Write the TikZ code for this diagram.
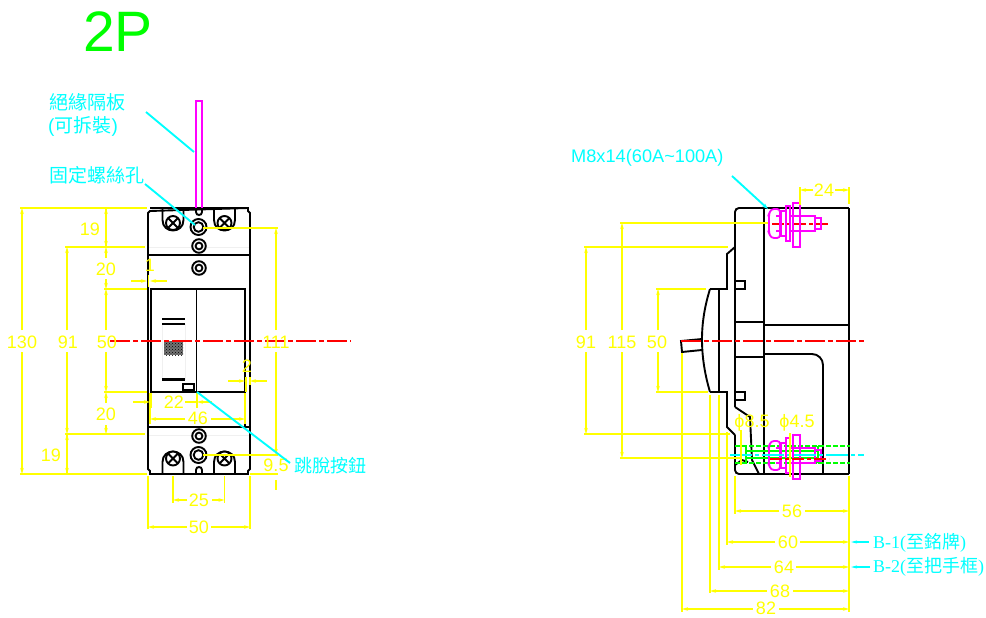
\documentclass[tikz,border=0pt]{standalone}
\usepackage{fontspec}
\setmainfont{Liberation Sans}
\newfontfamily\serifl{Liberation Serif}
\newfontfamily\cjk{Noto Sans CJK TC}
\usetikzlibrary{arrows.meta,patterns}
\definecolor{yel}{RGB}{255,255,0}
\definecolor{cya}{RGB}{0,255,255}
\definecolor{mag}{RGB}{255,0,255}
\definecolor{gre}{RGB}{0,255,0}
\definecolor{re}{RGB}{255,0,0}
\tikzset{
 body/.style={draw=black,line width=1.9pt},
 thin body/.style={draw=black,line width=1.4pt},
 dimline/.style={draw=yel,line width=1.9pt,-{Stealth[length=6pt,width=3.5pt]}},
 ext/.style={draw=yel,line width=1.9pt},
 lbl/.style={text=yel,font=\fontsize{18}{18}\selectfont,inner sep=0pt},
 note/.style={text=cya,font=\fontsize{18.2}{18.2}\selectfont,inner sep=0pt},
 leader/.style={draw=cya,line width=1.9pt},
 center/.style={draw=re,line width=2pt,dash pattern=on 20pt off 3pt on 5pt off 3pt},
 bolt/.style={draw=mag,line width=1.8pt},
 gdash/.style={draw=gre,line width=1.8pt,dash pattern=on 5pt off 2pt},
 gsolid/.style={draw=gre,line width=1.8pt},
}
\newcommand{\boltshape}[1]{%
 \begin{scope}[shift={(0,#1)}]
  \draw[bolt,rounded corners=3pt] (780,209)--(771,209)--(769,214)--(769,233)--(771,238)--(780,238)--cycle;
  \draw[bolt] (781,211) rectangle (786,236);
  \draw[bolt] (786,206) rectangle (790,241);
  \draw[bolt] (793,203) rectangle (800,247);
  \draw[bolt] (790,216)--(815,216)--(815,231)--(790,231);
  \draw[bolt] (815,218)--(821,218)--(821,229)--(815,229);
  \draw[bolt] (776,216)--(780,216) (776,231)--(780,231);
 \end{scope}}
\begin{document}
\begin{tikzpicture}[x=1pt,y=-1pt,line cap=butt]
\useasboundingbox[fill=white] (0,0) rectangle (986,618);

\node[text=gre,font=\fontsize{57}{57}\selectfont,inner sep=0pt,anchor=base west] (title) at (83,52) {2P};

% ---------- front view ----------
\draw[draw=black!6,line width=1pt] (149,247)--(249,247) (149,435)--(249,435);
\draw[draw=black!6,line width=.7pt] (162,324) rectangle (185,379);
\draw[body] (150,208)--(248,208) (248,208)--(248,211)--(250,213)--(250,469)--(248,471)--(248,474)--(150,474)--(150,471)--(148,469)--(148,213)--(150,211)--cycle;
\draw[body] (148,255)--(250,255) (148,427)--(250,427);
\draw[body] (151,289)--(245,289)--(245,392)--(151,392)--cycle;
\draw[body] (196.5,289)--(196.5,392);
\draw[thin body] (245,392)--(245,427);
\draw[thin body] (162,319)--(185,319);
\draw[body] (162,324)--(185,324);
\draw[draw=black,line width=3pt] (162,379)--(185,379);
\fill[black!55] (164,341) rectangle (183,355);
\fill[pattern=crosshatch dots,pattern color=black] (164,341) rectangle (183,355);
\draw[body] (183,384) rectangle (194,390);
% notches
\draw[body] (196,208)--(196,212) .. controls (196,216) and (202,216) .. (202,212)--(202,208);
\draw[body] (196,474)--(196,470) .. controls (196,466) and (202,466) .. (202,470)--(202,474);
% screw housings
\foreach \cx in {173,224.5}{
 \draw[body] (\cx-10.5,208)--(\cx-10.5,220) .. controls (\cx-10.5,234) and (\cx+10.5,234) .. (\cx+10.5,220)--(\cx+10.5,208);
 \draw[body] (\cx-10.5,474)--(\cx-10.5,462) .. controls (\cx-10.5,448) and (\cx+10.5,448) .. (\cx+10.5,462)--(\cx+10.5,474);
 \foreach \cy in {223,458.5}{
  \draw[body,fill=white] (\cx,\cy) circle[radius=7];
  \draw[body] (\cx-4.8,\cy-4.8)--(\cx+4.8,\cy+4.8) (\cx-4.8,\cy+4.8)--(\cx+4.8,\cy-4.8);
 }
}
% terminals
\draw[body] (198.5,227) circle[radius=8] (198.5,227) circle[radius=4.8];
\draw[body] (199,246) circle[radius=6.8] (199,246) circle[radius=3.4];
\draw[body] (199,268) circle[radius=6.8] (199,268) circle[radius=3.4];
\draw[body] (199,436) circle[radius=6.8] (199,436) circle[radius=3.4];
\draw[body] (198.5,455) circle[radius=8] (198.5,455) circle[radius=4.8];
% plate
\draw[draw=mag,line width=2pt] (196,208)--(196,101.5)--(202,101.5)--(202,208);

% front notes
\node[note,anchor=west,font=\fontsize{19}{19}\selectfont\cjk] (n1) at (49,102) {絕緣隔板};
\node[note,anchor=west,font=\fontsize{19}{19}\selectfont] (n2) at (48,126) {(\cjk 可拆裝\rmfamily)};
\node[note,anchor=west,font=\fontsize{19}{19}\selectfont\cjk] (n3) at (49,175) {固定螺絲孔};
\node[note,anchor=west,font=\fontsize{18}{18}\selectfont\cjk] (n4) at (294,466) {跳脫按鈕};
\coordinate (p1) at (146,112); \coordinate (p1e) at (194,152);
\coordinate (p2) at (145,184); \coordinate (p2e) at (195,225);
\coordinate (p3) at (197,392); \coordinate (p3e) at (290,463);

% front centre line
\draw[center] (110,341)--(351,341);

% front dimensions
\draw[ext] (20,208)--(147,208) (20,474)--(147,474);
\draw[ext] (65,247)--(145,247) (65,434)--(145,434);
\draw[ext] (104,289)--(147,289) (104,392)--(147,392);
\node[lbl] (d130) at (22,342) {130};
\node[lbl] (d91) at (68,342) {91};
\node[lbl] (d50) at (107,342) {50};
\node[lbl] (d111) at (276,342) {111};
\node[lbl] (d19a) at (90,229) {19};
\node[lbl] (d20a) at (106,269) {20};
\node[lbl] (d20b) at (106,414) {20};
\node[lbl] (d19b) at (51,455) {19};
\node[lbl] (d1) at (150,265) {1};
\node[lbl] (d2) at (247,366) {2};
\node[lbl] (d22) at (174,402) {22};
\node[lbl] (d46) at (198,418) {46};
\node[lbl] (d25) at (199,500) {25};
\node[lbl] (d50b) at (199,527) {50};
\node[lbl] (d95) at (276,465) {9.5};
\draw[dimline] (22,330)--(22,208);
\draw[dimline] (22,352)--(22,474);
\draw[dimline] (67,330)--(67,247);
\draw[dimline] (67,352)--(67,434);
\draw[dimline] (67,434)--(67,474);
\draw[dimline] (67,474)--(67,434);
\draw[dimline] (106,247)--(106,208);
\draw[dimline] (106,208)--(106,247);
\draw[dimline] (106,258)--(106,247);
\draw[dimline] (106,279)--(106,289);
\draw[dimline] (106,330)--(106,289);
\draw[dimline] (106,352)--(106,392);
\draw[dimline] (106,403)--(106,392);
\draw[dimline] (106,425)--(106,434);
\draw[ext] (203,228)--(278,228) (203,455)--(278,455) (250,474)--(278,474);
\draw[dimline] (276,330)--(276,228);
\draw[dimline] (276,352)--(276,455);
\draw[ext] (276,480)--(276,490);
\draw[dimline] (131,281)--(147,281);
\draw[dimline] (167,281)--(150,281);
\draw[ext] (148.5,275)--(148.5,287);
\draw[dimline] (228,381)--(245,381);
\draw[dimline] (267,381)--(250,381);
\draw[ext] (246,377)--(246,392) (250,377)--(250,385);
\draw[dimline] (133,402)--(150,402);
\draw[dimline] (212,402)--(197,402);
\draw[ext] (185,402)--(197,402) (151,393)--(151,408) (197,393)--(197,408);
\draw[dimline] (185,419)--(150,419);
\draw[dimline] (211,419)--(245,419);
\draw[ext] (150,393)--(150,424);
\draw[ext] (245,393)--(245,424);
\draw[ext] (173,476)--(173,503) (224.5,476)--(224.5,503);
\draw[dimline] (187,500)--(173,500);
\draw[dimline] (212,500)--(224.5,500);
\draw[ext] (148,476)--(148,529) (250,476)--(250,529);
\draw[dimline] (187,527)--(148,527);
\draw[dimline] (211,527)--(250,527);

% leaders
\draw[leader] (p1)--(p1e);
\draw[leader] (p2)--(p2e);
\draw[leader] (p3)--(p3e);

% ---------- side view ----------
\draw[body,rounded corners=4pt] (764,208)--(735,208)--(735,300);
\draw[body] (849,208)--(764,208);
\draw[body] (849,208)--(849,474);
\draw[body] (735,296)--(735,407);
\draw[body] (764,208)--(764,474);
\draw[body] (735,247)--(727,254)--(727,289)--(710,289);
\draw[body] (710,289) .. controls (705,305) and (702,322) .. (702,339) .. controls (702,358) and (705,375) .. (710,392);
\draw[body] (710,392)--(727,392)--(727,427)--(735,435);
\draw[body,rounded corners=4pt] (735,435)--(735,474)--(790,474);
\draw[body] (790,474)--(849,474);
\draw[body] (735,407)--(750,417)--(752,460)--(759,474);
\draw[body] (719,289)--(719,392);
\draw[body] (735,281) rectangle (745,289);
\draw[body] (735,392) rectangle (745,400);
\draw[body] (735,322)--(764,322) (764,325)--(849,325);
\draw[body] (735,357)--(764,357);
\draw[body,rounded corners=11pt] (764,354)--(823,354)--(823,474);
\draw[body] (702,339)--(681,341)--(682,352)--(702,350);

% bottom wing detail
\draw[body] (735,465)--(742,460) (742,460)--(748,462);

% green section
\draw[gdash] (735,446)--(850,446) (735,463)--(850,463);
\draw[gsolid] (741,446) rectangle (746,463);
\draw[gsolid] (746,451)--(818,451) (746,458)--(818,458);
\draw[gsolid] (818,446)--(818,463) (818,446)--(822,446) (818,463)--(822,463);

% bolts
\draw[center,dash pattern=on 12pt off 3pt on 4pt off 3pt] (772,223.5)--(829,223.5);
\boltshape{0}
\boltshape{232}
\draw[draw=re,line width=2pt,dash pattern=on 12pt off 3pt on 4pt off 3pt] (770,458.5)--(829,458.5);
\draw[draw=cya,line width=2pt,dash pattern=on 22pt off 3pt on 4pt off 3pt] (730,455)--(864,455);

\draw[center] (681,341)--(866,341);

% side notes
\node[note,anchor=west] (m8) at (571,158) {M8x14(60A\char`\~100A)};
\coordinate (m8s) at (732,176); \coordinate (m8e) at (768,209);
\draw[leader,-{Stealth[length=6pt,width=4pt]}] (m8s)--(m8e);
\node[note,anchor=west,font=\fontsize{18}{18}\selectfont\serifl] (b1) at (873,543) {B-1({\cjk 至銘牌})};
\node[note,anchor=west,font=\fontsize{18}{18}\selectfont\serifl] (b2) at (873,567) {B-2({\cjk 至把手框})};
\coordinate (b1s) at (869,542); \coordinate (b1e) at (851,542);
\coordinate (b2s) at (870,567); \coordinate (b2e) at (851,567);
\draw[leader,-{Stealth[length=6pt,width=3pt]}] (b1s)--(b1e);
\draw[leader,-{Stealth[length=6pt,width=3pt]}] (b2s)--(b2e);

% side dimensions
\node[lbl] (s91) at (586,342) {91};
\node[lbl] (s115) at (622,342) {115};
\node[lbl] (s50) at (657,342) {50};
\node[lbl] (s24) at (824,190) {24};
\node[lbl] (phi1) at (752,423) {ϕ8.5};
\node[lbl] (phi2) at (797,423) {ϕ4.5};
\node[lbl] (s56) at (792,511) {56};
\node[lbl] (s60) at (788,542) {60};
\node[lbl] (s64) at (784,567) {64};
\node[lbl] (s68) at (780,591) {68};
\node[lbl] (s82) at (766,608.5) {82};
\draw[ext] (584,247)--(728,247) (584,434)--(730,434);
\draw[ext] (620,223)--(768,223) (620,458)--(742,458);
\draw[ext] (656,289)--(706,289) (656,392)--(708,392);
\draw[dimline] (586,330)--(586,247);
\draw[dimline] (586,352)--(586,434);
\draw[dimline] (622,330)--(622,223);
\draw[dimline] (622,352)--(622,458);
\draw[dimline] (658,330)--(658,289);
\draw[dimline] (658,352)--(658,392);
\draw[ext] (800,187)--(800,205) (849,187)--(849,204);
\draw[dimline] (813,190)--(800,190);
\draw[dimline] (835,190)--(849,190);
\draw[ext] (741,430)--(741,465) (790,433)--(790,477);
\draw[ext] (682,353)--(682,612) (710,395)--(710,593) (719,395)--(719,570) (727,432)--(727,545) (735,476)--(735,514);
\draw[draw=yel,line width=2.4pt] (849,476)--(849,612);
\draw[dimline] (779,511)--(735,511);
\draw[dimline] (805,511)--(849,511);
\draw[dimline] (775,542)--(727,542);
\draw[dimline] (800,542)--(849,542);
\draw[dimline] (771,567)--(719,567);
\draw[dimline] (796,567)--(849,567);
\draw[dimline] (767,591)--(710,591);
\draw[dimline] (793,591)--(849,591);
\draw[dimline] (753,609)--(682,609);
\draw[dimline] (779,609)--(849,609);
\end{tikzpicture}
\end{document}
